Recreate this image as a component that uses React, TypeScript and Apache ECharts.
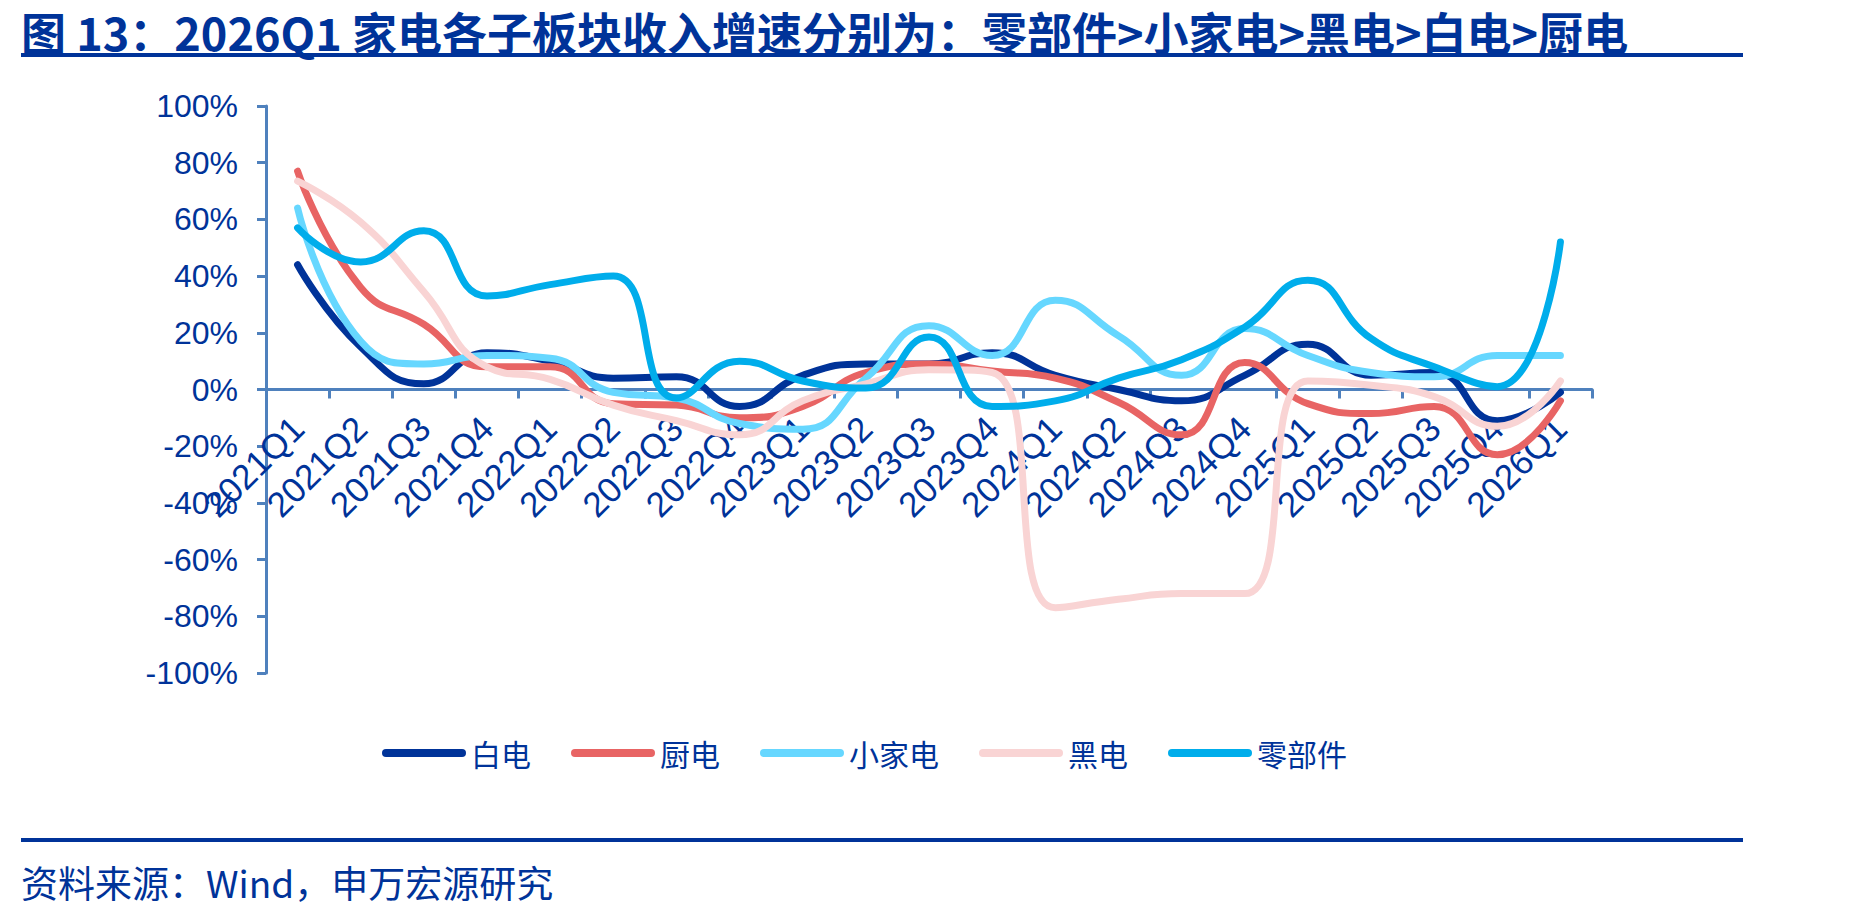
import React, { useEffect, useRef } from "react";
import * as echarts from "echarts";

// Quarterly revenue growth (%) by home-appliance sub-sector
const quarters = [
  "2021Q1", "2021Q2", "2021Q3", "2021Q4",
  "2022Q1", "2022Q2", "2022Q3", "2022Q4",
  "2023Q1", "2023Q2", "2023Q3", "2023Q4",
  "2024Q1", "2024Q2", "2024Q3", "2024Q4",
  "2025Q1", "2025Q2", "2025Q3", "2025Q4",
  "2026Q1",
];

const whiteGoods = [44, 15, 2, 13, 10, 4, 4.5, -6, 5, 9, 9, 13, 5, 0, -4, 5, 16, 5, 6, -11, -1];
const kitchen = [77, 36, 23, 8, 8, -5, -5.5, -10, -6, 6, 9, 6.5, 4, -4.5, -16, 9.5, -5, -8.5, -6, -23, -4];
const smallAppliance = [64, 17, 9, 12, 11, -1, -3, -12, -14, 4, 22.5, 12, 31.5, 19, 5, 21.5, 12, 6, 4.5, 12, 12];
const blackGoods = [73.5, 59, 34.5, 8, 3.6, -5.5, -11, -16, -4, 2, 7, 6, -77, -74, -72, -72, 3, 1.5, -2.5, -13, 3];
const components = [57, 45, 56, 33, 37, 40, -3, 10, 3, 0.5, 18.5, -6, -4, 4, 10.5, 22, 38.5, 18, 8, 1, 52];

const seriesNames = ["白电", "厨电", "小家电", "黑电", "零部件"];
const seriesColors = ["#003399", "#E86464", "#66D7FF", "#F9D4D4", "#00ADEB"];
const yTicks = { min: -100, max: 100, step: 20 };

const TITLE = "图 13：2026Q1 家电各子板块收入增速分别为：零部件>小家电>黑电>白电>厨电";
const SOURCE = "资料来源：Wind，申万宏源研究";

const TEXT_BLUE = "#003399";
const AXIS_BLUE = "#4F81BD";
const FONT = '"Liberation Sans", "Noto Sans CJK SC", sans-serif';
const CJK_FONT = '"Noto Sans CJK SC", "Liberation Sans", sans-serif';

// Plot area, in pixels
const GRID = { left: 266, right: 257, top: 106, bottom: 243 };
const CHART_H = 916;

export default function App() {
  const ref = useRef<HTMLDivElement>(null);

  useEffect(() => {
    if (!ref.current) return;
    const chart = echarts.init(ref.current, undefined, { renderer: "svg" });

    const values = [whiteGoods, kitchen, smallAppliance, blackGoods, components];

    // The category axis sits on the 0% line: shift it up from the grid bottom.
    const plotH = CHART_H - GRID.top - GRID.bottom;
    const zeroFromBottom = (plotH * (0 - yTicks.min)) / (yTicks.max - yTicks.min);

    chart.setOption({
      animation: false,
      backgroundColor: "#ffffff",
      grid: { ...GRID, containLabel: false },
      legend: {
        left: 377,
        top: 733,
        itemWidth: 84,
        itemHeight: 8,
        itemGap: 40,
        icon: "path://M4,0L80,0A4,4,0,0,1,80,8L4,8A4,4,0,0,1,4,0Z",
        data: seriesNames,
        textStyle: { fontSize: 30, color: TEXT_BLUE, fontFamily: CJK_FONT },
      },
      xAxis: {
        type: "category",
        data: quarters,
        boundaryGap: true,
        offset: -zeroFromBottom,
        axisLine: { onZero: false, lineStyle: { color: AXIS_BLUE, width: 3 } },
        axisTick: { show: true, length: 9, lineStyle: { color: AXIS_BLUE, width: 3 } },
        axisLabel: {
          rotate: 45,
          interval: 0,
          margin: 33,
          fontSize: 35,
          color: TEXT_BLUE,
          fontFamily: FONT,
        },
        splitLine: { show: false },
      },
      yAxis: {
        type: "value",
        min: yTicks.min,
        max: yTicks.max,
        interval: yTicks.step,
        axisLine: { show: true, lineStyle: { color: AXIS_BLUE, width: 3 } },
        axisTick: { show: true, length: 9, lineStyle: { color: AXIS_BLUE, width: 3 } },
        axisLabel: {
          formatter: "{value}%",
          margin: 28,
          fontSize: 32,
          color: TEXT_BLUE,
          fontFamily: FONT,
        },
        splitLine: { show: false },
      },
      series: seriesNames.map((name, i) => ({
        name,
        type: "line",
        data: values[i],
        smooth: 0.5,
        symbol: "none",
        color: seriesColors[i],
        lineStyle: { color: seriesColors[i], width: 7, cap: "round", join: "round" },
        z: 2 + i,
      })),
      graphic: [
        {
          type: "text",
          x: 21,
          y: 31,
          style: {
            text: TITLE,
            fontSize: 45,
            fontWeight: "bold",
            fontFamily: CJK_FONT,
            fill: TEXT_BLUE,
            verticalAlign: "middle",
          },
        },
        {
          type: "rect",
          shape: { x: 21, y: 53, width: 1722, height: 4 },
          style: { fill: TEXT_BLUE },
        },
        {
          type: "rect",
          shape: { x: 21, y: 838, width: 1722, height: 4 },
          style: { fill: TEXT_BLUE },
        },
        {
          type: "text",
          x: 21,
          y: 882,
          style: {
            text: SOURCE,
            fontSize: 37,
            fontFamily: CJK_FONT,
            fill: TEXT_BLUE,
            verticalAlign: "middle",
          },
        },
      ],
    });

    return () => chart.dispose();
  }, []);

  return (
    <div
      ref={ref}
      style={{ position: "absolute", left: 0, top: 0, width: 1849, height: CHART_H }}
    />
  );
}
